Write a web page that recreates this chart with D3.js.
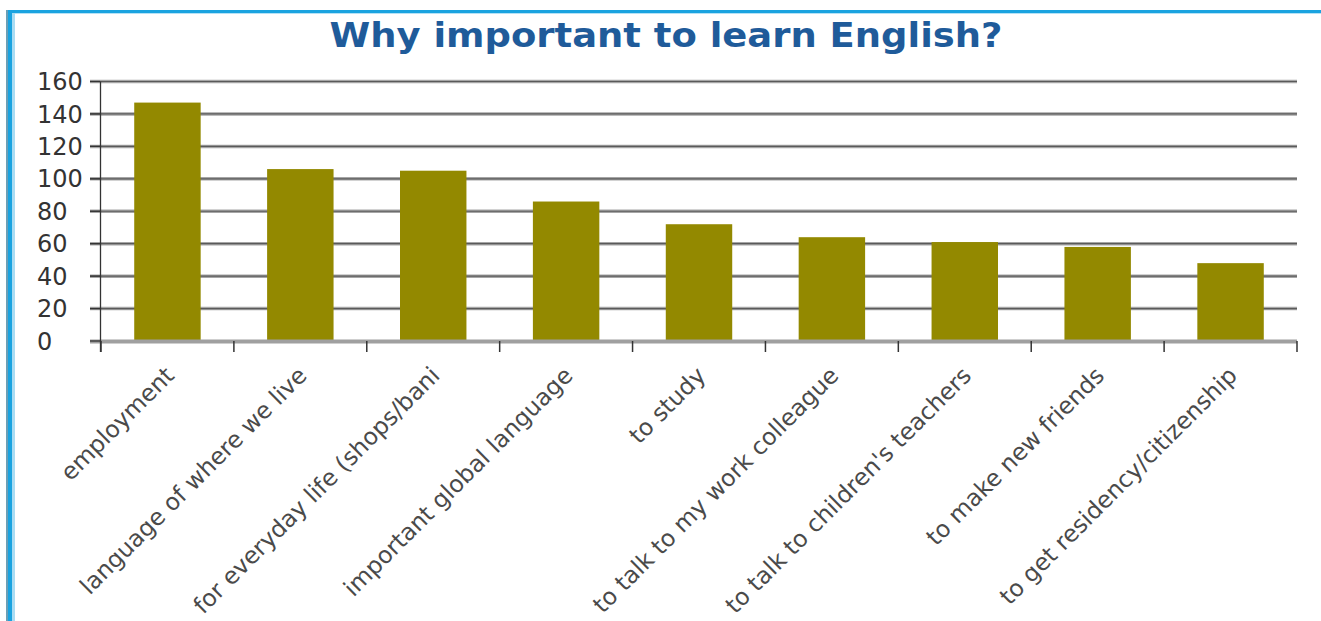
<!DOCTYPE html>
<html><head><meta charset="utf-8">
<script src="https://cdn.jsdelivr.net/npm/d3@7"></script>
<style>html,body{margin:0;padding:0;background:#fff;}svg{display:block;}</style>
</head><body>
<svg id="chart" width="1321" height="621"></svg>
<script>
const title = "Why important to learn English?";
const categories = ["employment","language of where we live","for everyday life (shops/bani","important global language","to study","to talk to my work colleague","to talk to children's teachers","to make new friends","to get residency/citizenship"];
const values = [147,106,105,86,72,64,61,58,48];
const yTicks = [0,20,40,60,80,100,120,140,160];

const svg = d3.select("#chart");
const W = 1321, H = 621;
const plot = {left:101, right:1297, top:81.5, bottom:341};

// frame
svg.append("rect").attr("x",6).attr("y",10).attr("width",W-6).attr("height",3).attr("fill","#1aa3e0");
svg.append("rect").attr("x",8).attr("y",13).attr("width",W-8).attr("height",1).attr("fill","#b5e2f6");
svg.append("rect").attr("x",6).attr("y",10).attr("width",2).attr("height",H-10).attr("fill","#6c9fb6");
svg.append("rect").attr("x",8).attr("y",10).attr("width",4).attr("height",H-10).attr("fill","#1aa3e0");
svg.append("rect").attr("x",12).attr("y",13).attr("width",3).attr("height",H-13).attr("fill","#a9dcf3");

// title
svg.append("text").attr("x",666).attr("y",47).attr("text-anchor","middle")
  .attr("font-family","Verdana, 'DejaVu Sans', sans-serif").attr("font-weight","bold")
  .attr("font-size",34).attr("fill","#1f5b9a")
  .attr("textLength",673).attr("lengthAdjust","spacingAndGlyphs")
  .text(title);

const x = d3.scaleBand().domain(categories).range([plot.left, plot.right]).paddingInner(0.5).paddingOuter(0.25);
const y = d3.scaleLinear().domain([0,160]).range([plot.bottom, plot.top]);

// gridlines
const grid = svg.append("g");
yTicks.filter(t=>t>0).forEach(t=>{
  grid.append("line").attr("x1",90).attr("x2",plot.right).attr("y1",y(t)).attr("y2",y(t))
    .attr("stroke","#a6a6a6").attr("stroke-width",3.5);
  grid.append("line").attr("x1",90).attr("x2",plot.right).attr("y1",y(t)).attr("y2",y(t))
    .attr("stroke","#5a5a5a").attr("stroke-width",1.2);
});

// bars
svg.append("g").selectAll("rect").data(categories).join("rect")
  .attr("x",d=>x(d)).attr("width",x.bandwidth())
  .attr("y",(d,i)=>y(values[i])).attr("height",(d,i)=>y(0)-y(values[i]))
  .attr("fill","#938900");

// x axis baseline
svg.append("line").attr("x1",90).attr("x2",plot.right).attr("y1",y(0)+0.5).attr("y2",y(0)+0.5)
  .attr("stroke","#a0a0a0").attr("stroke-width",4);
// x ticks at band boundaries
const step = x.step();
const bounds = d3.range(categories.length+1).map(i=>plot.left + i*step);
svg.append("g").selectAll("line").data(bounds).join("line")
  .attr("x1",d=>d).attr("x2",d=>d).attr("y1",y(0)).attr("y2",y(0)+11)
  .attr("stroke","#333").attr("stroke-width",1.5);
// y axis line
svg.append("line").attr("x1",100.5).attr("x2",100.5).attr("y1",plot.top).attr("y2",y(0)+11)
  .attr("stroke","#333").attr("stroke-width",1.3);
// y tick marks
svg.append("g").selectAll("line").data(yTicks).join("line")
  .attr("x1",90).attr("x2",100).attr("y1",d=>y(d)).attr("y2",d=>y(d))
  .attr("stroke","#333").attr("stroke-width",1.3);

// y labels
svg.append("g").selectAll("text").data(yTicks).join("text")
  .attr("x",37).attr("y",d=>y(d)).attr("dy","0.36em")
  .attr("font-family","Verdana, 'DejaVu Sans', sans-serif").attr("font-size",24)
  .attr("fill","#333").text(d=>d);

// x labels
svg.append("g").selectAll("text").data(categories).join("text")
  .attr("transform",d=>`translate(${x(d)+x.bandwidth()/2+8},${y(0)+36}) rotate(-45)`)
  .attr("text-anchor","end")
  .attr("font-family","Verdana, 'DejaVu Sans', sans-serif").attr("font-size",23.5)
  .attr("fill","#4a4a4a").text(d=>d);
</script>
</body></html>
